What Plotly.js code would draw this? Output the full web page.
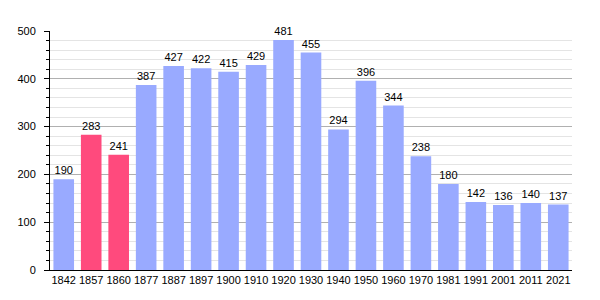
<!DOCTYPE html>
<html><head><meta charset="utf-8">
<script src="https://cdn.plot.ly/plotly-3.0.1.min.js"></script>
<style>html,body{margin:0;padding:0;background:#fff}</style>
</head><body>
<div id="chart" style="width:600px;height:300px"></div>
<script>
const years = ["1842","1857","1860","1877","1887","1897","1900","1910","1920","1930","1940","1950","1960","1970","1981","1991","2001","2011","2021"];
const population = [190,283,241,387,427,422,415,429,481,455,294,396,344,238,180,142,136,140,137];
const highlighted = ["1857","1860"];
const blue = "#99aaff", pink = "#ff4a7d";
const colors = years.map(y => highlighted.includes(y) ? pink : blue);
Plotly.newPlot("chart", [{
  type: "bar", x: years, y: population,
  marker: {color: colors},
  text: population.map(String), textposition: "outside",
  textfont: {family: "Liberation Sans, Arial, sans-serif", size: 11, color: "#000"},
  cliponaxis: false, hoverinfo: "none"
}], {
  width: 600, height: 300,
  margin: {l: 50, r: 28, t: 31, b: 30},
  paper_bgcolor: "#fff", plot_bgcolor: "#fff",
  bargap: 0.25,
  font: {family: "Liberation Sans, Arial, sans-serif", size: 11, color: "#000"},
  xaxis: {type: "category", showline: true, linecolor: "#000", linewidth: 1, ticks: "", ticklabelstandoff: 0, tickfont: {size: 11}, fixedrange: true},
  yaxis: {range: [0, 500], dtick: 100, showline: true, linecolor: "#000", linewidth: 1,
    ticks: "outside", ticklen: 5, tickcolor: "#000", showgrid: true, gridcolor: "#b0b0b0", gridwidth: 1,
    zeroline: false, tickfont: {size: 11}, ticklabelstandoff: 6,
    minor: {dtick: 20, showgrid: true, gridcolor: "#e4e4e4", ticks: "outside", ticklen: 3, tickcolor: "#000"}},
  showlegend: false
}, {displayModeBar: false, staticPlot: true});
</script>
</body></html>
